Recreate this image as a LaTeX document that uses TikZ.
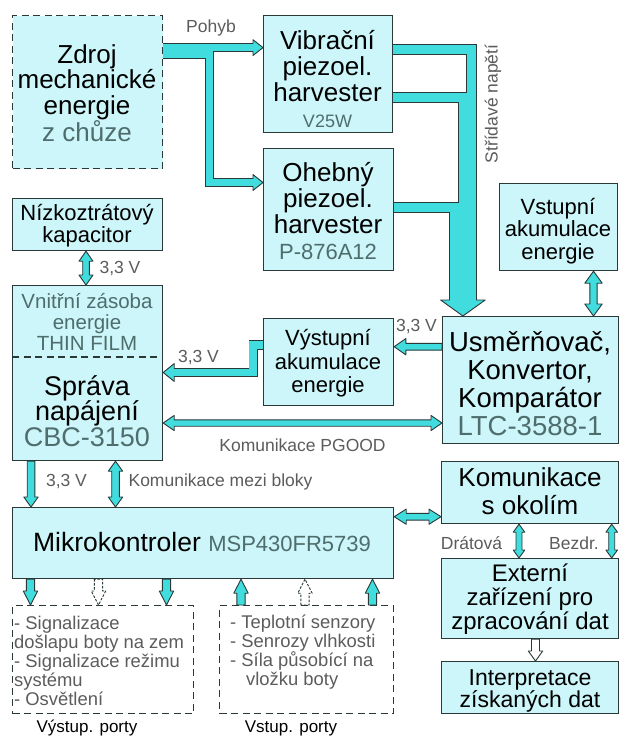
\documentclass[tikz,border=0pt]{standalone}
\usepackage{fontspec}
\setmainfont{Liberation Sans}
\usetikzlibrary{calc}
\pgfdeclarelayer{bgw}
\pgfdeclarelayer{bg}
\pgfsetlayers{bgw,bg,main}
\definecolor{bx}{HTML}{CCF6F9}
\definecolor{cy}{HTML}{40DCDE}
\definecolor{bd}{HTML}{2B3838}
\definecolor{gt}{HTML}{4F6D6D}
\definecolor{lb}{HTML}{5C5C5C}
\newcommand\fs[2]{\fontsize{#1}{#2}\selectfont}
\newcommand\setarr[3]{\def\hl{#1pt}\def\hw{#2pt}\def\sw{#3pt}}
\setarr{10}{7}{3.4}
% vertical block arrow: #2 start, #3 end, #4 head at start (0/1), #5 head at end (0/1)
\newcommand\varr[5][]{%
 \filldraw[ba,#1] let \p1=#2, \p2=#3, \n1={sign(\y2-\y1)} in
 ({\x1-\sw},{\y1+(\n1)*(#4)*\hl})
 -- ({\x1-\sw},{\y2-(\n1)*(#5)*\hl})
 -- ({\x1-\sw-(#5)*(\hw-\sw)},{\y2-(\n1)*(#5)*\hl})
 -- (\x1,\y2)
 -- ({\x1+\sw+(#5)*(\hw-\sw)},{\y2-(\n1)*(#5)*\hl})
 -- ({\x1+\sw},{\y2-(\n1)*(#5)*\hl})
 -- ({\x1+\sw},{\y1+(\n1)*(#4)*\hl})
 -- ({\x1+\sw+(#4)*(\hw-\sw)},{\y1+(\n1)*(#4)*\hl})
 -- (\x1,\y1)
 -- ({\x1-\sw-(#4)*(\hw-\sw)},{\y1+(\n1)*(#4)*\hl})
 -- cycle;}
% horizontal block arrow
\newcommand\harr[5][]{%
 \filldraw[ba,#1] let \p1=#2, \p2=#3, \n1={sign(\x2-\x1)} in
 ({\x1+(\n1)*(#4)*\hl},{\y1-\sw})
 -- ({\x2-(\n1)*(#5)*\hl},{\y1-\sw})
 -- ({\x2-(\n1)*(#5)*\hl},{\y1-\sw-(#5)*(\hw-\sw)})
 -- (\x2,\y1)
 -- ({\x2-(\n1)*(#5)*\hl},{\y1+\sw+(#5)*(\hw-\sw)})
 -- ({\x2-(\n1)*(#5)*\hl},{\y1+\sw})
 -- ({\x1+(\n1)*(#4)*\hl},{\y1+\sw})
 -- ({\x1+(\n1)*(#4)*\hl},{\y1+\sw+(#4)*(\hw-\sw)})
 -- (\x1,\y1)
 -- ({\x1+(\n1)*(#4)*\hl},{\y1-\sw-(#4)*(\hw-\sw)})
 -- cycle;}
% head for channel arrows: #1 tip, #2 angle, #3 length, #4 half width, #5 patch half width
\newcommand\chead[5]{%
 \begin{scope}[shift={#1}, rotate=#2]
  \filldraw[ba] (0pt,0pt) -- (-#3pt,#4pt) -- (-#3pt,-#4pt) -- cycle;
  \fill[cy] ({-#3pt-1.3pt},-#5pt) rectangle ({-#3pt+1.3pt},#5pt);
 \end{scope}}
\newcommand\pohyb[1]{%
 \draw[#1, shorten >=10pt] (zdroj.east |- 0,47.6) -- (vib.west |- 0,47.6);
 \draw[#1, shorten >=10pt] (zdroj.east |- 0,54.2) -- (209.2,54.2) -- (209.2,182.5) -- (oheb.west |- 0,182.5);}
\newcommand\strid[1]{%
 \draw[#1, shorten >=16pt] (vib.east |- 0,49.5) -- (471.5,49.5) -- (471.5,0 |- usm.north);
 \draw[#1, shorten >=16pt] (vib.east |- 0,97.5) -- (462.9,97.5) -- (462.9,0 |- usm.north);
 \draw[#1, shorten >=16pt] (oheb.east |- 0,207.5) -- (454.3,207.5) -- (454.3,0 |- usm.north);}
\newcommand\vyst[1]{%
 \draw[#1, shorten >=11pt] (vystA.west |- 0,345) -- (253.3,345) -- (253.3,372.5) -- (vnitr.east |- 0,372.5);}
\tikzset{
 box/.style={draw=bd, fill=bx, line width=1.2pt, inner sep=0pt, anchor=north west},
 dbox/.style={box, dash pattern=on 7pt off 4.5pt},
 tx/.style={inner sep=0pt, align=center, text=black},
 lab/.style={inner sep=0pt, text=lb, font=\fs{17.5}{18}},
 ba/.style={fill=cy, draw=bd, line width=0.9pt, line join=round},
 hol/.style={fill=white, draw=bd, line width=0.9pt, line join=round},
 holdash/.style={hol, dash pattern=on 2.5pt off 1.5pt},
}
\begin{document}
\begin{tikzpicture}[x=1pt,y=-1pt]
\useasboundingbox (0,0) rectangle (620,736);
\begin{pgfonlayer}{bgw}
 \fill[white] (0,0) rectangle (620,736);
\end{pgfonlayer}
% boxes
\node[dbox, minimum width=150pt, minimum height=153pt] (zdroj) at (12,15) {};
\node[box, minimum width=129pt, minimum height=117pt] (vib) at (263,15) {};
\node[box, minimum width=130pt, minimum height=122pt] (oheb) at (263,148) {};
\node[box, minimum width=150pt, minimum height=52pt] (nizko) at (12,198) {};
\node[box, minimum width=150pt, minimum height=175pt] (vnitr) at (12,285) {};
\node[box, minimum width=130pt, minimum height=87pt] (vystA) at (263,318) {};
\node[box, minimum width=118pt, minimum height=87pt] (vstA) at (499,183) {};
\node[box, minimum width=176pt, minimum height=127pt] (usm) at (442,316) {};
\node[box, minimum width=177pt, minimum height=62pt] (kom) at (441,461) {};
\node[box, minimum width=177pt, minimum height=80pt] (ext) at (441,558) {};
\node[box, minimum width=177pt, minimum height=52pt] (interp) at (441,661) {};
\node[box, minimum width=381pt, minimum height=71pt] (mikro) at (12,507) {};
\node[dbox, fill=white, minimum width=181pt, minimum height=108pt] (outb) at (12,605) {};
\node[dbox, fill=white, minimum width=174pt, minimum height=108pt] (inb) at (219,605) {};
\draw[draw=bd, line width=1.1pt, dash pattern=on 7pt off 4.5pt] (vnitr.west |- 0,357) -- (vnitr.east |- 0,357);
% box texts
\node[tx, font=\fs{26}{25.5}] (t1) at (87,93) {Zdroj\\mechanické\\energie\\{\color{gt}z chůze}};
\node[tx, font=\fs{26}{26}] (t2) at (327.5,79) {Vibrační\\piezoel.\\harvester\\{\fs{18}{18}\color{gt}V25W}};
\node[tx, font=\fs{26}{26}] (t3) at (328,211) {Ohebný\\piezoel.\\harvester\\{\fs{22}{22}\color{gt}P-876A12}};
\node[tx, font=\fs{22}{22}] (t4) at (87,226) {Nízkoztrátový\\kapacitor};
\node[tx, font=\fs{20.5}{21}, text=gt] (t5) at (87,322) {Vnitřní zásoba\\energie\\THIN FILM};
\node[tx, font=\fs{27}{25.5}] (t6) at (87,411) {Správa\\napájení\\{\color{gt}CBC-3150}};
\node[tx, font=\fs{22}{23.5}] (t7) at (328,363.5) {Výstupní\\akumulace\\energie};
\node[tx, font=\fs{22}{22.5}] (t8) at (558,231) {Vstupní\\akumulace\\energie};
\node[tx, font=\fs{27.5}{27.8}] (t9) at (530,383.5) {Usměrňovač,\\Konvertor,\\Komparátor\\{\color{gt}LTC-3588-1}};
\node[tx, font=\fs{26}{28}] (t10) at (530,491) {Komunikace\\s okolím};
\node[tx, font=\fs{24}{24}] (t11) at (530,599) {Externí\\zařízení pro\\zpracování dat};
\node[tx, font=\fs{23}{22}] (t12) at (530,691) {Interpretace\\získaných dat};
\node[tx, font=\fs{26.5}{27}] (t13) at (202,542) {Mikrokontroler {\fs{22}{22}\color{gt}MSP430FR5739}};
\node[tx, align=left, anchor=west, text=lb, font=\fs{18.4}{18.8}] (t14) at (14,661) {- Signalizace\\došlapu boty na zem\\- Signalizace režimu\\systému\\- Osvětlení};
\node[tx, align=left, anchor=west, text=lb, font=\fs{18.4}{18.8}] (t15) at (230,652) {- Teplotní senzory\\- Senrozy vlhkosti\\- Síla působící na\\\hspace*{16pt}vložku boty};
\node[tx, font=\fs{17}{17}] (t16) at (87,728) {Výstup. porty};
\node[tx, font=\fs{17}{17}] (t17) at (291,728) {Vstup. porty};
% labels
\node[lab] (l1) at (211,28) {Pohyb};
\node[lab, rotate=90] (l2) at (493,104) {Střídavé napětí};
\node[lab] (l3) at (120,269) {3,3 V};
\node[lab] (l4) at (198.5,358) {3,3 V};
\node[lab] (l5) at (416.5,327) {3,3 V};
\node[lab] (l6) at (302.5,445) {Komunikace PGOOD};
\node[lab] (l7) at (66.5,482) {3,3 V};
\node[lab] (l8) at (220.5,482) {Komunikace mezi bloky};
\node[lab] (l9) at (471.5,543.5) {Drátová};
\node[lab] (l10) at (574,543.5) {Bezdr.};
% arrows
\begin{pgfonlayer}{bg}
 \pohyb{draw=bd, line width=8.6pt}
 \strid{draw=bd, line width=10.6pt}
 \vyst{draw=bd, line width=9.6pt}
 \pohyb{draw=cy, line width=6.8pt}
 \strid{draw=cy, line width=8.8pt}
 \vyst{draw=cy, line width=7.8pt}
 \chead{(vib.west |- 0,47.6)}{0}{10}{7.9}{3.4}
 \chead{(oheb.west |- 0,182.5)}{0}{10}{7.9}{3.4}
 \chead{(462.9,0 |- usm.north)}{-90}{16}{22.3}{13}
 \chead{(vnitr.east |- 0,372.5)}{180}{11}{8.9}{3.9}
 \setarr{11.7}{8.2}{3.4}
 \harr{(usm.west |- 0,346.7)}{(vystA.east |- 0,346.7)}{0}{1}
 \setarr{11}{7.6}{3.2}
 \harr{(vnitr.east |- 0,423)}{(usm.west |- 0,423)}{1}{1}
 \setarr{12}{7.6}{3.4}
 \harr{(mikro.east |- 0,516.7)}{(kom.west |- 0,516.7)}{1}{1}
 \setarr{10}{7}{3.3}
 \varr{(86,0 |- nizko.south)}{(86,0 |- vnitr.north)}{1}{1}
 \setarr{10}{7.2}{3.8}
 \varr{(31,0 |- vnitr.south)}{(31,0 |- mikro.north)}{0}{1}
 \varr{(115.5,0 |- vnitr.south)}{(115.5,0 |- mikro.north)}{1}{1}
 \setarr{12}{8.7}{3.6}
 \varr{(593.5,0 |- vstA.south)}{(593.5,0 |- usm.north)}{1}{1}
 \setarr{8}{5.8}{3}
 \varr{(519,0 |- kom.south)}{(519,0 |- ext.north)}{1}{1}
 \varr{(611.7,0 |- kom.south)}{(611.7,0 |- ext.north)}{1}{1}
 \setarr{14}{7.2}{4.1}
 \varr{(30.5,0 |- mikro.south)}{(30.5,0 |- outb.north)}{0}{1}
 \varr[holdash]{(98.5,0 |- mikro.south)}{(98.5,0 |- outb.north)}{0}{1}
 \varr{(166.5,0 |- mikro.south)}{(166.5,0 |- outb.north)}{0}{1}
 \varr{(241,0 |- inb.north)}{(241,0 |- mikro.south)}{0}{1}
 \varr[holdash]{(305,0 |- inb.north)}{(305,0 |- mikro.south)}{0}{1}
 \varr{(372.5,0 |- inb.north)}{(372.5,0 |- mikro.south)}{0}{1}
 \setarr{10}{7.2}{4}
 \varr[hol]{(535.5,0 |- ext.south)}{(535.5,0 |- interp.north)}{0}{1}
\end{pgfonlayer}
\end{tikzpicture}
\end{document}
